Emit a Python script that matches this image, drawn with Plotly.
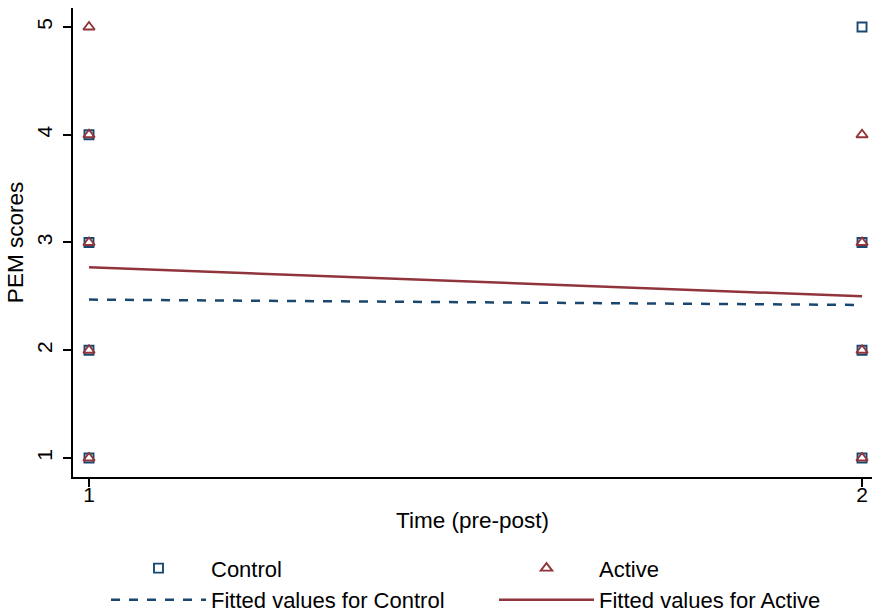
import plotly.graph_objects as go

# Data
time_control = [1, 1, 1, 1, 2, 2, 2, 2]
pem_control = [1, 2, 3, 4, 1, 2, 3, 5]
time_active = [1, 1, 1, 1, 1, 2, 2, 2, 2]
pem_active = [1, 2, 3, 4, 5, 1, 2, 3, 4]
fit_time = [1, 2]
fit_control = [2.47, 2.42]
fit_active = [2.77, 2.50]
x_ticks = [1, 2]
y_ticks = [1, 2, 3, 4, 5]

NAVY = "#1a476f"
MAROON = "#90353b"
FONT = "Liberation Sans, Arial, sans-serif"

fig = go.Figure()
fig.add_trace(go.Scatter(x=time_control, y=pem_control, mode="markers", name="Control",
                         cliponaxis=False,
                         marker=dict(symbol="square-open", size=9, color=NAVY, line=dict(width=1.9))))
fig.add_trace(go.Scatter(x=time_active, y=pem_active, mode="markers", name="Active",
                         cliponaxis=False,
                         marker=dict(symbol="triangle-up-open", size=10, color=MAROON, line=dict(width=1.9))))
fig.add_trace(go.Scatter(x=fit_time, y=fit_control, mode="lines", name="Fitted values for Control",
                         line=dict(color=NAVY, width=2.5, dash="dash")))
fig.add_trace(go.Scatter(x=fit_time, y=fit_active, mode="lines", name="Fitted values for Active",
                         line=dict(color=MAROON, width=2.5)))

fig.update_layout(
    width=872, height=615,
    margin=dict(l=73, r=0, t=8, b=138, autoexpand=False),
    paper_bgcolor="white", plot_bgcolor="white",
    font=dict(family=FONT, size=21, color="black"),
    showlegend=True,
    legend=dict(orientation="h", x=0.0413, xanchor="left", y=-0.150, yanchor="top",
                entrywidth=278, entrywidthmode="pixels", itemwidth=95,
                font=dict(size=22), tracegroupgap=0),
)
fig.update_xaxes(range=[0.9793, 2.0129], tickvals=x_ticks, showgrid=False, zeroline=False,
                 showline=True, linecolor="black", linewidth=1.5, automargin=False,
                 ticks="outside", ticklen=8, tickwidth=1.5, tickcolor="black",
                 ticklabelstandoff=-10,
                 title=dict(text="Time (pre-post)", standoff=7, font=dict(size=22.5)),
                 tickfont=dict(size=21))
fig.update_yaxes(range=[0.8237, 5.176], tickvals=y_ticks, showgrid=False, zeroline=False,
                 showline=True, linecolor="black", linewidth=1.5, automargin=False,
                 ticks="outside", ticklen=8, tickwidth=1.5, tickcolor="black",
                 tickangle=-90, ticklabelstandoff=3,
                 title=dict(text="PEM scores", standoff=3, font=dict(size=22.5)),
                 tickfont=dict(size=21))

fig.write_html("out.html", config={"displayModeBar": False},
               post_script="document.body.style.margin='0';")
